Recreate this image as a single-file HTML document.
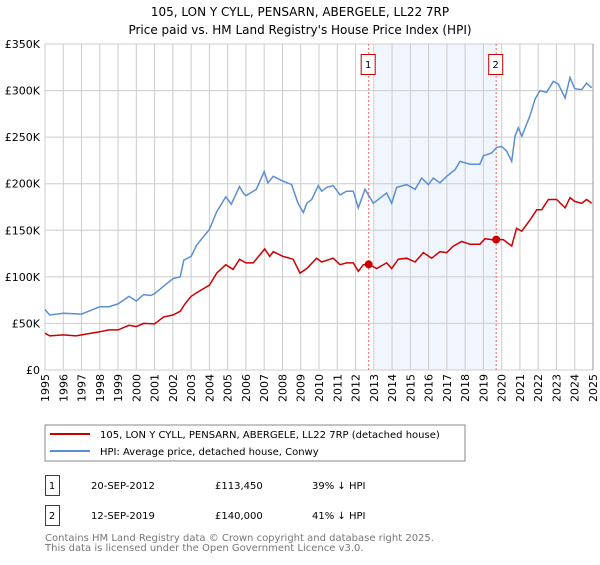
<!DOCTYPE html>
<html><head><meta charset="utf-8"><style>
body{margin:0;width:600px;height:560px;background:#fff;font-family:"Liberation Sans","DejaVu Sans",sans-serif;overflow:hidden}
svg text{font-family:"DejaVu Sans","Liberation Sans",sans-serif}
</style></head><body>
<svg id="chart" width="600" height="560">
<text x="300" y="16" text-anchor="middle" font-size="12">105, LON Y CYLL, PENSARN, ABERGELE, LL22 7RP</text>
<text x="300" y="34" text-anchor="middle" font-size="12">Price paid vs. HM Land Registry's House Price Index (HPI)</text>
<g id="grid"></g><g id="marks"></g><g id="axes"></g>
<rect x="45" y="425" width="420" height="36" fill="#fff" stroke="#888"/>
<line x1="50" y1="434" x2="90" y2="434" stroke="#cc0000" stroke-width="2"/>
<text x="100" y="438" font-size="10">105, LON Y CYLL, PENSARN, ABERGELE, LL22 7RP (detached house)</text>
<line x1="50" y1="451" x2="90" y2="451" stroke="#5b8fd4" stroke-width="2"/>
<text x="100" y="455" font-size="10">HPI: Average price, detached house, Conwy</text>
<g font-size="10">
<rect x="45.5" y="475.5" width="14" height="20" fill="#fff" stroke="#cc0000"/>
<text x="52" y="489" text-anchor="middle">1</text>
<text x="91" y="489">20-SEP-2012</text>
<text x="215" y="489">£113,450</text>
<text x="312" y="489">39% ↓ HPI</text>
<rect x="45.5" y="505.5" width="14" height="20" fill="#fff" stroke="#cc0000"/>
<text x="52" y="519" text-anchor="middle">2</text>
<text x="91" y="519">12-SEP-2019</text>
<text x="215" y="519">£140,000</text>
<text x="312" y="519">41% ↓ HPI</text>
</g>
<text x="45" y="541" font-size="10" fill="#777">Contains HM Land Registry data © Crown copyright and database right 2025.</text>
<text x="45" y="551" font-size="10" fill="#777">This data is licensed under the Open Government Licence v3.0.</text>
</svg>
<script>
const yTicks=[0,50000,100000,150000,200000,250000,300000,350000];
const yTickLabels=["£0","£50K","£100K","£150K","£200K","£250K","£300K","£350K"];
const xTicks=[1995,1996,1997,1998,1999,2000,2001,2002,2003,2004,2005,2006,2007,2008,2009,2010,2011,2012,2013,2014,2015,2016,2017,2018,2019,2020,2021,2022,2023,2024,2025];
const hpiYears=[1995,1995.26,1996,1997,1998,1998.5,1999,1999.6,2000,2000.4,2000.8,2001,2001.5,2002,2002.4,2002.6,2003,2003.3,2003.8,2004,2004.4,2004.9,2005.2,2005.65,2005.85,2006,2006.57,2007,2007.2,2007.5,2008,2008.5,2008.85,2009.14,2009.33,2009.6,2009.96,2010.15,2010.42,2010.78,2011.15,2011.51,2011.88,2012.15,2012.52,2012.97,2013.7,2013.98,2014.25,2014.8,2015.26,2015.62,2015.99,2016.26,2016.62,2016.99,2017.45,2017.72,2018.27,2018.81,2019.0,2019.45,2019.73,2020.0,2020.27,2020.55,2020.73,2020.91,2021.1,2021.55,2021.83,2022.1,2022.46,2022.83,2023.1,2023.47,2023.74,2024.0,2024.38,2024.65,2024.93];
const hpiValues=[65,59,61,60,68,68,71,79,74,81,80,82,90,98,100,118,122,134,146,151,170,186,178,197,190,187,194,213,201,208,203,199,179,169,179,183,198,192,196,198,188,192,192,174,194,179,190,179,196,199,194,206,199,206,201,208,215,224,221,221,230,233,239,240,235,224,251,260,251,273,291,300,298,310,307,292,314,302,301,308,303];
const propYears=[1995,1995.26,1996,1996.7,1997,1998,1998.5,1999,1999.6,2000,2000.4,2001,2001.5,2002,2002.4,2002.7,2003,2003.3,2004,2004.4,2004.9,2005.3,2005.65,2006,2006.4,2007.03,2007.3,2007.5,2008.03,2008.58,2008.96,2009.33,2009.87,2010.15,2010.78,2011.15,2011.51,2011.88,2012.15,2012.43,2012.72,2013.16,2013.7,2013.98,2014.34,2014.8,2015.26,2015.71,2016.17,2016.62,2016.99,2017.35,2017.81,2018.27,2018.81,2019.09,2019.45,2019.7,2020.09,2020.55,2020.82,2021.1,2021.55,2021.92,2022.19,2022.56,2023.01,2023.47,2023.74,2024.0,2024.38,2024.65,2024.93];
const propValues=[39.5,36.6,37.7,36.6,37.7,41,43,43,48,46.6,50,49.5,57,59,63,72,79,83,91,104,113,108,119,115,115,130,122,127,122,119,104,109,120,116,120,113,115,115,106,113,113.45,109,115,109,119,120,116,126,120,127,126,133,138,135,135,141,140,140,140,133,152,149,161,172,172,183,183,174,185,181,179,183,179];
const saleYears=[2012.72,2019.7];
const saleValues=[113450,140000];
const saleLabels=["1","2"];
const NS="http://www.w3.org/2000/svg";
const X0=45,X1=593,Y0=370,Y1=44;
function xs(y){return X0+(y-1995)/30*(X1-X0);}
function ys(v){return Y0-v/350000*(Y0-Y1);}
function mk(t,a,p){const e=document.createElementNS(NS,t);for(const k in a)e.setAttribute(k,a[k]);p.appendChild(e);return e;}
const grid=document.getElementById('grid'),marks=document.getElementById('marks'),axes=document.getElementById('axes');
mk('rect',{x:X0,y:Y1,width:X1-X0,height:Y0-Y1,fill:'#fff',stroke:'#ccc'},grid);
const shade=mk('rect',{x:xs(2013.05),y:Y1,width:xs(saleYears[1])-xs(2013.05),height:Y0-Y1,fill:'#eef3fc',opacity:0.8},grid);


yTicks.forEach((v,i)=>{
 const l=mk('line',{x1:X0,x2:X1,y1:ys(v),y2:ys(v),stroke:'#ccc'},grid);
 
 
 const t=mk('text',{x:40,y:ys(v)+4,'text-anchor':'end','font-size':11},axes);
 t.textContent=yTickLabels[i];
 
 
});
xTicks.forEach(y=>{
 const l=mk('line',{x1:xs(y),x2:xs(y),y1:Y1,y2:Y0,stroke:'#ccc'},grid);
 
 
 const t=mk('text',{x:0,y:0,'text-anchor':'end','font-size':11,transform:`translate(${xs(y)+4},374) rotate(-90)`},axes);
 t.textContent=y;
 
 
});
mk('line',{x1:X1,x2:X1,y1:Y1,y2:Y0,stroke:'#999'},grid);
saleYears.forEach((y,i)=>{
 const l=mk('line',{x1:xs(y),x2:xs(y),y1:Y1,y2:Y0,stroke:'#ff6666','stroke-dasharray':'2,2'},marks);
 
 
 const b=mk('rect',{x:xs(y)-7.5,y:54.5,width:14,height:20,fill:'#fff',stroke:'#cc0000'},marks);
 
 
 const t=mk('text',{x:xs(y)-0.5,y:68,'text-anchor':'middle','font-size':10},marks);
 t.textContent=saleLabels[i];
 
 
});
function path(xsA,vs,col,name){
 const d=xsA.map((y,i)=>(i?'L':'M')+xs(y).toFixed(1)+','+ys(vs[i]*1000).toFixed(1)).join('');
 const p=mk('path',{d:d,fill:'none',stroke:col,'stroke-width':1.5},marks);
 
 
}
path(hpiYears,hpiValues,'#5b8fd4','hpi-line');
path(propYears,propValues,'#cc0000','property-price-line');
saleYears.forEach((y,i)=>{
 const c=mk('circle',{cx:xs(y),cy:ys(saleValues[i]),r:4,fill:'#cc0000'},marks);
 
 
});
</script>
</body></html>
